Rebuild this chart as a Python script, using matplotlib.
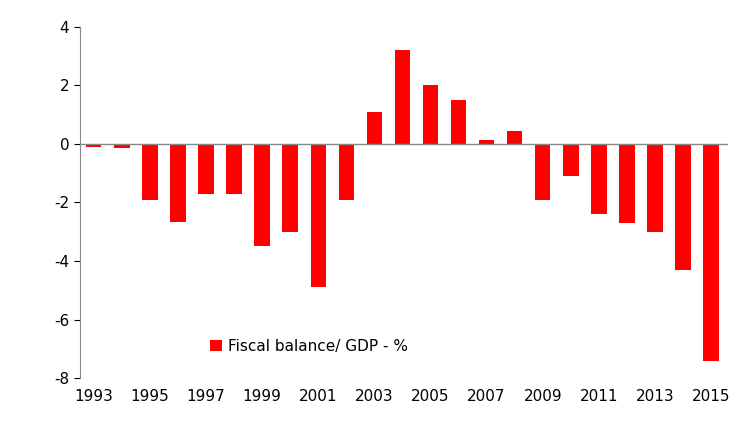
import matplotlib
matplotlib.use("Agg")
import matplotlib.pyplot as plt

plt.rcParams["axes.unicode_minus"] = False

years = list(range(1993, 2016))
balance = [-0.1, -0.15, -1.9, -2.65, -1.7, -1.7, -3.5, -3.0, -4.9, -1.9,
           1.1, 3.2, 2.0, 1.5, 0.15, 0.45, -1.9, -1.1, -2.4, -2.7, -3.0, -4.3, -7.4]
label = "Fiscal balance/ GDP - %"

fig = plt.figure(figsize=(7.52, 4.48), dpi=100)
ax = fig.add_axes([0.106, 0.156, 0.862, 0.784])
ax.bar(years, balance, width=0.55, color="#ff0000", label=label)
ax.set_ylim(-8, 4)
ax.set_xlim(1992.5, 2015.6)
ax.set_yticks(range(-8, 5, 2))
ax.set_xticks(years[::2])
ax.tick_params(axis="x", length=0, labelsize=11, pad=8)
ax.tick_params(axis="y", labelsize=11, direction="out", length=4)
for s in ["top", "right", "bottom"]:
    ax.spines[s].set_visible(False)
ax.spines["left"].set_color("#888888")
ax.axhline(0, color="#888888", lw=1)
ax.legend(loc="lower left", bbox_to_anchor=(0.18, 0.03), frameon=False,
          fontsize=11, handlelength=0.8, handleheight=0.8, handletextpad=0.4)
fig.savefig("out.png", dpi=100)
